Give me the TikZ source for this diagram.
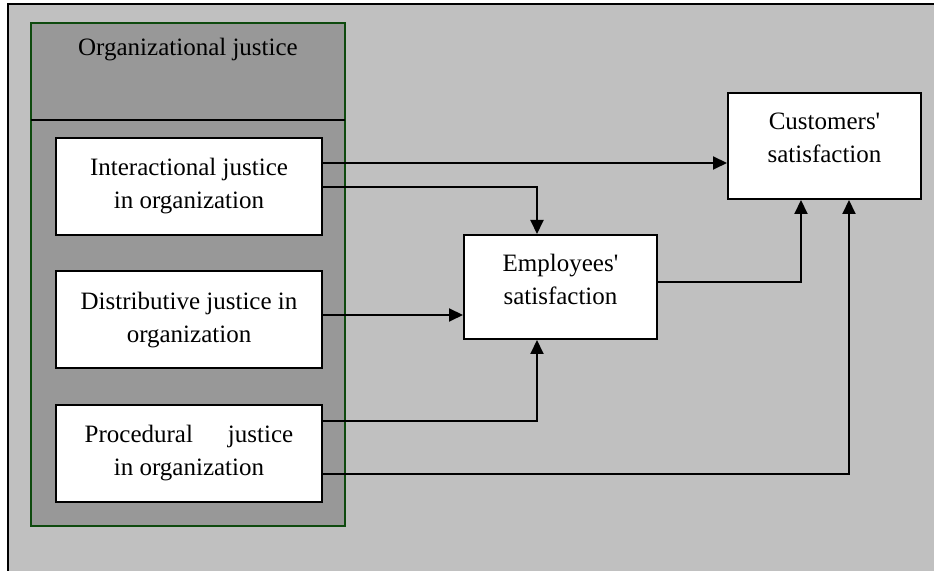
\documentclass[tikz,border=0pt]{standalone}
\usepackage{fontspec}
\setmainfont{Liberation Serif}
\usetikzlibrary{arrows.meta}
\definecolor{bggray}{HTML}{C0C0C0}
\definecolor{boxgray}{HTML}{989898}
\definecolor{darkgreen}{HTML}{0E4A0E}
\newcommand{\lowstrut}{\rule[-8pt]{0pt}{8pt}}
\tikzset{
  justbox/.style={draw=black, line width=1pt, fill=white, align=center,
    minimum width=133pt, minimum height=48.5pt, inner sep=2pt},
  satbox/.style={draw=black, line width=1pt, fill=white, align=center,
    minimum width=96.5pt, minimum height=52pt, inner sep=2pt},
  arr/.style={line width=1pt, -{Triangle[length=7pt,width=6.5pt]}}
}
\begin{document}
\begin{tikzpicture}[x=0.5pt, y=-0.5pt, font=\fontsize{12.5}{16.5}\selectfont]
    \useasboundingbox (0,0) rectangle (934,571);
    % Hintergrund
    \fill[bggray] (8,4) rectangle (934,571);
    \draw[line width=1pt] (8,571) -- (8,4) -- (934,4);

    % Organizational justice
    \draw[darkgreen, line width=1pt, fill=boxgray] (31,23) rectangle (345,526);
    \draw[line width=1pt] (31,120) -- (345,120);
    \node (header) at (188,50) {Organizational justice};

    % Teilbereiche
    \node[justbox] (interact) at (189,186.5) {Interactional justice\\in organization};
    \node[justbox] (distrib) at (189,320) {Distributive justice in\\organization};
    \node[justbox] (proced) at (189,453.5) {Procedural\hspace{1.4em}justice\\in organization};

    % Zufriedenheit
    \node[satbox] (employ) at (560.5,287) {Employees\textquotesingle\\satisfaction\lowstrut};
    \node[satbox, minimum height=53pt] (cust) at (824.5,146) {Customers\textquotesingle\\satisfaction\lowstrut};

    % Pfeile
    \draw[arr] ([yshift=11.75pt]interact.east) coordinate (ia) -- (ia -| cust.west);
    \draw[arr] ([yshift=-0.25pt]interact.east) -| ([xshift=-11.75pt]employ.north);
    \draw[arr] ([yshift=2.5pt]distrib.east) coordinate (da) -- (da -| employ.west);
    \draw[arr] ([yshift=16.25pt]proced.east) -| ([xshift=-11.75pt]employ.south);
    \draw[arr] ([yshift=-10.25pt]proced.east) -| ([xshift=12.25pt]cust.south);
    \draw[arr] ([yshift=2.5pt]employ.east) -| ([xshift=-11.75pt]cust.south);
\end{tikzpicture}
\end{document}
